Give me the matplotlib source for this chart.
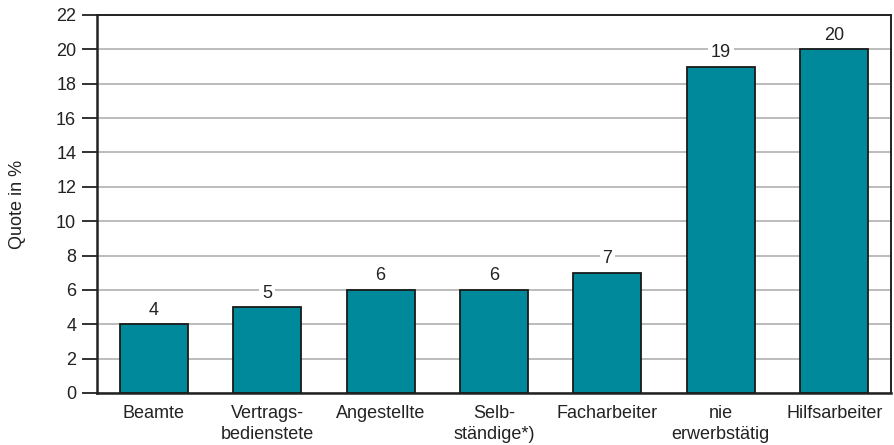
import matplotlib
matplotlib.use('Agg')
from matplotlib import pyplot as plt

plt.rcParams['font.family'] = ['Liberation Sans', 'DejaVu Sans']

categories = ['Beamte', 'Vertrags-\nbedienstete', 'Angestellte', 'Selb-\nständige*)',
              'Facharbeiter', 'nie\nerwerbstätig', 'Hilfsarbeiter']
values = [4, 5, 6, 6, 7, 19, 20]
yticks = list(range(0, 23, 2))

fig = plt.figure(figsize=(8.95, 4.45), dpi=100)
ax = fig.add_axes([0.1084, 0.1169, 0.8871, 0.8494])

x = range(len(categories))
ax.bar(x, values, width=0.6, color='#00899a', edgecolor='#1a1a1a', linewidth=1.3, zorder=3)

for i, v in zip(x, values):
    ax.annotate(str(v), (i, v), xytext=(0, 4), textcoords='offset points',
                ha='center', va='bottom', fontsize=13, color='#222222', zorder=2,
                bbox=dict(facecolor='white', edgecolor='none', pad=2))

ax.set_xlim(-0.5, 6.5)
ax.set_ylim(0, 22)
ax.set_yticks(yticks)
ax.set_xticks(list(x))
ax.set_xticklabels(categories, fontsize=13, color='#222222', linespacing=1.3)
ax.tick_params(axis='x', length=0, pad=9)
ax.tick_params(axis='y', length=11, width=1.3, color='#222222', labelsize=13, labelcolor='#222222', pad=4)
ax.yaxis.grid(True, color='#aaaaaa', linewidth=1.1, zorder=0)
ax.set_axisbelow(True)
for s in ax.spines.values():
    s.set_color('#222222')
    s.set_linewidth(1.4)
ax.spines['left'].set_linewidth(1.8)
ax.spines['bottom'].set_linewidth(1.8)

ax.set_ylabel('Quote in %', fontsize=13, color='#222222', labelpad=22)

fig.savefig('out.png', dpi=100)
